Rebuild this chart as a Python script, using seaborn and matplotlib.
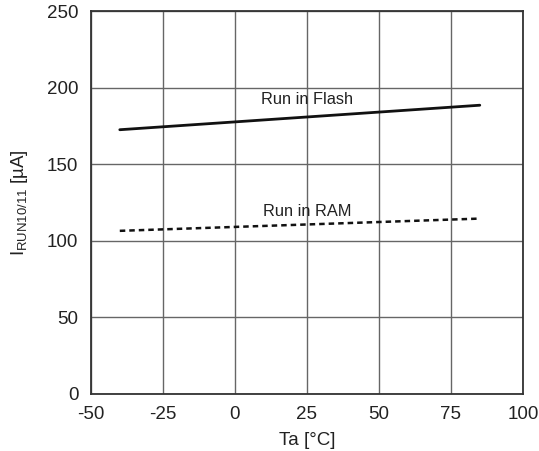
import matplotlib
matplotlib.use("Agg")
import matplotlib.pyplot as plt
import seaborn as sns
import pandas as pd

temps = [-40, 85]
flash = [172.5, 188.5]
ram = [106.5, 114.5]
xticks = [-50, -25, 0, 25, 50, 75, 100]
yticks = [0, 50, 100, 150, 200, 250]

sns.set_style("white")
plt.rcParams['font.family'] = ['Liberation Sans', 'DejaVu Sans']
plt.rcParams['mathtext.fontset'] = 'custom'
plt.rcParams['mathtext.rm'] = 'Liberation Sans'

fig = plt.figure(figsize=(5.39, 4.51), dpi=100)
ax = fig.add_axes([0.1688, 0.1264, 0.8015, 0.8492])

df_f = pd.DataFrame({"Ta": temps, "I": flash})
df_r = pd.DataFrame({"Ta": temps, "I": ram})
sns.lineplot(data=df_f, x="Ta", y="I", ax=ax, color="#111111", lw=2.0)
sns.lineplot(data=df_r, x="Ta", y="I", ax=ax, color="#111111", lw=1.8, linestyle=(0, (2.2, 1.6)))

ax.set_xlim(-50, 100)
ax.set_ylim(0, 250)
ax.set_xticks(xticks)
ax.set_yticks(yticks)
ax.set_xticklabels([str(t) for t in xticks])
ax.set_yticklabels([str(t) for t in yticks])
ax.grid(True, color="#666666", lw=1.0)
ax.set_axisbelow(True)
for s in ax.spines.values():
    s.set_color("#333333")
    s.set_linewidth(1.3)
ax.tick_params(axis='y', length=0, labelsize=13.5, colors="#222222", pad=9)
ax.tick_params(axis='x', length=0, labelsize=13.5, colors="#222222", pad=9)

ax.text(25, 192.5, "Run in Flash", ha="center", va="center", fontsize=11.8, color="#222222")
ax.text(25, 119, "Run in RAM", ha="center", va="center", fontsize=11.8, color="#222222")

ax.set_xlabel("Ta [°C]", fontsize=13.5, color="#222222", labelpad=6)
ax.set_ylabel(r"I$_{\mathregular{RUN10/11}}$ [µA]", fontsize=13.5, color="#222222", labelpad=12)

fig.savefig("out.png", dpi=100)
